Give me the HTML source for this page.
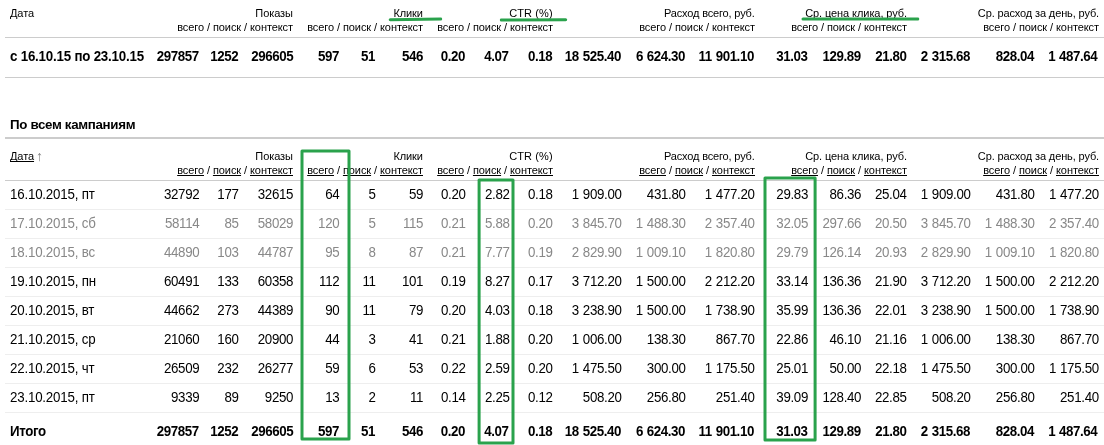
<!DOCTYPE html>
<html><head><meta charset="utf-8"><title>stat</title>
<style>
html,body{margin:0;padding:0;background:#fff;}
body{width:1104px;height:445px;position:relative;overflow:hidden;font-family:"Liberation Sans",Arial,sans-serif;color:#000;}
.c{position:absolute;white-space:nowrap;word-spacing:0.63px;font-size:13.33px;line-height:16px;letter-spacing:-0.33px;text-decoration-skip-ink:none;}
.c{transform:scaleY(1.09);transform-origin:0 12px;}
.h{transform:none;word-spacing:0;font-size:11px;line-height:14px;letter-spacing:-0.08px;}
.b{font-weight:bold;letter-spacing:-0.42px;}
.g{color:#888;}
.ln{position:absolute;left:5px;right:0;height:1px;background:#ccc;}
.rl{background:#eee;}
.u{text-decoration:underline;text-underline-offset:1px;text-decoration-thickness:1px;}
</style></head><body>

<div class="c h" style="top:6px;right:811.1px;letter-spacing:-0.08px">Показы</div>
<div class="c h" style="top:20px;right:811px">всего / поиск / контекст</div>
<div class="c h" style="top:6px;right:681.1px;letter-spacing:-0.08px">Клики</div>
<div class="c h" style="top:20px;right:681px">всего / поиск / контекст</div>
<div class="c h" style="top:6px;right:551.2px;letter-spacing:0.13px">CTR (%)</div>
<div class="c h" style="top:20px;right:551px">всего / поиск / контекст</div>
<div class="c h" style="top:6px;right:349.4px;letter-spacing:-0.17px">Расход всего, руб.</div>
<div class="c h" style="top:20px;right:349px">всего / поиск / контекст</div>
<div class="c h" style="top:6px;right:197.0px;letter-spacing:-0.08px">Ср. цена клика, руб.</div>
<div class="c h" style="top:20px;right:197px">всего / поиск / контекст</div>
<div class="c h" style="top:6px;right:5.0px;letter-spacing:-0.13px">Ср. расход за день, руб.</div>
<div class="c h" style="top:20px;right:5px">всего / поиск / контекст</div>
<div class="c h" style="top:6px;left:10px">Дата</div>
<div class="ln" style="top:37px"></div>
<div class="c b" style="top:49px;left:10px;letter-spacing:-0.21px;word-spacing:0">с 16.10.15 по 23.10.15</div>
<div class="c b" style="top:49px;right:905.2px">297857</div>
<div class="c b" style="top:49px;right:865.8px">1252</div>
<div class="c b" style="top:49px;right:810.8px">296605</div>
<div class="c b" style="top:49px;right:765.1px">597</div>
<div class="c b" style="top:49px;right:729.1px">51</div>
<div class="c b" style="top:49px;right:681.1px">546</div>
<div class="c b" style="top:49px;right:638.9px">0.20</div>
<div class="c b" style="top:49px;right:595.5px">4.07</div>
<div class="c b" style="top:49px;right:551.8px">0.18</div>
<div class="c b" style="top:49px;right:483.1px">18 525.40</div>
<div class="c b" style="top:49px;right:418.9px">6 624.30</div>
<div class="c b" style="top:49px;right:350.1px">11 901.10</div>
<div class="c b" style="top:49px;right:296.5px">31.03</div>
<div class="c b" style="top:49px;right:243.3px">129.89</div>
<div class="c b" style="top:49px;right:197.6px">21.80</div>
<div class="c b" style="top:49px;right:134.1px">2 315.68</div>
<div class="c b" style="top:49px;right:70.0px">828.04</div>
<div class="c b" style="top:49px;right:6.7px">1 487.64</div>
<div class="ln" style="top:77px"></div>
<div class="c b" style="top:117px;left:10px;letter-spacing:-0.33px;word-spacing:0;transform:none">По всем кампаниям</div>
<div class="ln" style="top:137px;height:2px;background:#ccc"></div>
<div class="c h" style="top:149px;right:811.1px;letter-spacing:-0.08px">Показы</div>
<div class="c h" style="top:163px;right:811px"><span class="u">всего</span> / <span class="u">поиск</span> / <span class="u">контекст</span></div>
<div class="c h" style="top:149px;right:681.1px;letter-spacing:-0.08px">Клики</div>
<div class="c h" style="top:163px;right:681px"><span class="u">всего</span> / <span class="u">поиск</span> / <span class="u">контекст</span></div>
<div class="c h" style="top:149px;right:551.2px;letter-spacing:0.13px">CTR (%)</div>
<div class="c h" style="top:163px;right:551px"><span class="u">всего</span> / <span class="u">поиск</span> / <span class="u">контекст</span></div>
<div class="c h" style="top:149px;right:349.4px;letter-spacing:-0.17px">Расход всего, руб.</div>
<div class="c h" style="top:163px;right:349px"><span class="u">всего</span> / <span class="u">поиск</span> / <span class="u">контекст</span></div>
<div class="c h" style="top:149px;right:197.0px;letter-spacing:-0.08px">Ср. цена клика, руб.</div>
<div class="c h" style="top:163px;right:197px"><span class="u">всего</span> / <span class="u">поиск</span> / <span class="u">контекст</span></div>
<div class="c h" style="top:149px;right:5.0px;letter-spacing:-0.13px">Ср. расход за день, руб.</div>
<div class="c h" style="top:163px;right:5px"><span class="u">всего</span> / <span class="u">поиск</span> / <span class="u">контекст</span></div>
<div class="c h" style="top:149px;left:10px"><span class="u">Дата</span> <span style="color:#808080;font-size:14px;line-height:10px;margin-left:-1px;position:relative;top:1px">↑</span></div>
<div class="ln" style="top:180px"></div>
<div class="c " style="top:187px;left:10px;letter-spacing:-0.2px;word-spacing:0">16.10.2015, пт</div>
<div class="c " style="top:187px;right:904.7px">32792</div>
<div class="c " style="top:187px;right:865.4px">177</div>
<div class="c " style="top:187px;right:810.8px">32615</div>
<div class="c " style="top:187px;right:764.7px">64</div>
<div class="c " style="top:187px;right:728.4px">5</div>
<div class="c " style="top:187px;right:680.8px">59</div>
<div class="c " style="top:187px;right:638.4px">0.20</div>
<div class="c " style="top:187px;right:594.4px">2.82</div>
<div class="c " style="top:187px;right:551.4px">0.18</div>
<div class="c " style="top:187px;right:482.4px">1 909.00</div>
<div class="c " style="top:187px;right:418.4px">431.80</div>
<div class="c " style="top:187px;right:349.4px">1 477.20</div>
<div class="c " style="top:187px;right:296.0px">29.83</div>
<div class="c " style="top:187px;right:242.8px">86.36</div>
<div class="c " style="top:187px;right:197.4px">25.04</div>
<div class="c " style="top:187px;right:133.4px">1 909.00</div>
<div class="c " style="top:187px;right:69.4px">431.80</div>
<div class="c " style="top:187px;right:5.2px">1 477.20</div>
<div class="ln rl" style="top:209px"></div>
<div class="c g" style="top:216px;left:10px;letter-spacing:-0.2px;word-spacing:0">17.10.2015, сб</div>
<div class="c g" style="top:216px;right:904.7px">58114</div>
<div class="c g" style="top:216px;right:865.4px">85</div>
<div class="c g" style="top:216px;right:810.8px">58029</div>
<div class="c g" style="top:216px;right:764.7px">120</div>
<div class="c g" style="top:216px;right:728.4px">5</div>
<div class="c g" style="top:216px;right:680.8px">115</div>
<div class="c g" style="top:216px;right:638.4px">0.21</div>
<div class="c g" style="top:216px;right:594.4px">5.88</div>
<div class="c g" style="top:216px;right:551.4px">0.20</div>
<div class="c g" style="top:216px;right:482.4px">3 845.70</div>
<div class="c g" style="top:216px;right:418.4px">1 488.30</div>
<div class="c g" style="top:216px;right:349.4px">2 357.40</div>
<div class="c g" style="top:216px;right:296.0px">32.05</div>
<div class="c g" style="top:216px;right:242.8px">297.66</div>
<div class="c g" style="top:216px;right:197.4px">20.50</div>
<div class="c g" style="top:216px;right:133.4px">3 845.70</div>
<div class="c g" style="top:216px;right:69.4px">1 488.30</div>
<div class="c g" style="top:216px;right:5.2px">2 357.40</div>
<div class="ln rl" style="top:238px"></div>
<div class="c g" style="top:245px;left:10px;letter-spacing:-0.2px;word-spacing:0">18.10.2015, вс</div>
<div class="c g" style="top:245px;right:904.7px">44890</div>
<div class="c g" style="top:245px;right:865.4px">103</div>
<div class="c g" style="top:245px;right:810.8px">44787</div>
<div class="c g" style="top:245px;right:764.7px">95</div>
<div class="c g" style="top:245px;right:728.4px">8</div>
<div class="c g" style="top:245px;right:680.8px">87</div>
<div class="c g" style="top:245px;right:638.4px">0.21</div>
<div class="c g" style="top:245px;right:594.4px">7.77</div>
<div class="c g" style="top:245px;right:551.4px">0.19</div>
<div class="c g" style="top:245px;right:482.4px">2 829.90</div>
<div class="c g" style="top:245px;right:418.4px">1 009.10</div>
<div class="c g" style="top:245px;right:349.4px">1 820.80</div>
<div class="c g" style="top:245px;right:296.0px">29.79</div>
<div class="c g" style="top:245px;right:242.8px">126.14</div>
<div class="c g" style="top:245px;right:197.4px">20.93</div>
<div class="c g" style="top:245px;right:133.4px">2 829.90</div>
<div class="c g" style="top:245px;right:69.4px">1 009.10</div>
<div class="c g" style="top:245px;right:5.2px">1 820.80</div>
<div class="ln rl" style="top:267px"></div>
<div class="c " style="top:274px;left:10px;letter-spacing:-0.2px;word-spacing:0">19.10.2015, пн</div>
<div class="c " style="top:274px;right:904.7px">60491</div>
<div class="c " style="top:274px;right:865.4px">133</div>
<div class="c " style="top:274px;right:810.8px">60358</div>
<div class="c " style="top:274px;right:764.7px">112</div>
<div class="c " style="top:274px;right:728.4px">11</div>
<div class="c " style="top:274px;right:680.8px">101</div>
<div class="c " style="top:274px;right:638.4px">0.19</div>
<div class="c " style="top:274px;right:594.4px">8.27</div>
<div class="c " style="top:274px;right:551.4px">0.17</div>
<div class="c " style="top:274px;right:482.4px">3 712.20</div>
<div class="c " style="top:274px;right:418.4px">1 500.00</div>
<div class="c " style="top:274px;right:349.4px">2 212.20</div>
<div class="c " style="top:274px;right:296.0px">33.14</div>
<div class="c " style="top:274px;right:242.8px">136.36</div>
<div class="c " style="top:274px;right:197.4px">21.90</div>
<div class="c " style="top:274px;right:133.4px">3 712.20</div>
<div class="c " style="top:274px;right:69.4px">1 500.00</div>
<div class="c " style="top:274px;right:5.2px">2 212.20</div>
<div class="ln rl" style="top:296px"></div>
<div class="c " style="top:303px;left:10px;letter-spacing:-0.2px;word-spacing:0">20.10.2015, вт</div>
<div class="c " style="top:303px;right:904.7px">44662</div>
<div class="c " style="top:303px;right:865.4px">273</div>
<div class="c " style="top:303px;right:810.8px">44389</div>
<div class="c " style="top:303px;right:764.7px">90</div>
<div class="c " style="top:303px;right:728.4px">11</div>
<div class="c " style="top:303px;right:680.8px">79</div>
<div class="c " style="top:303px;right:638.4px">0.20</div>
<div class="c " style="top:303px;right:594.4px">4.03</div>
<div class="c " style="top:303px;right:551.4px">0.18</div>
<div class="c " style="top:303px;right:482.4px">3 238.90</div>
<div class="c " style="top:303px;right:418.4px">1 500.00</div>
<div class="c " style="top:303px;right:349.4px">1 738.90</div>
<div class="c " style="top:303px;right:296.0px">35.99</div>
<div class="c " style="top:303px;right:242.8px">136.36</div>
<div class="c " style="top:303px;right:197.4px">22.01</div>
<div class="c " style="top:303px;right:133.4px">3 238.90</div>
<div class="c " style="top:303px;right:69.4px">1 500.00</div>
<div class="c " style="top:303px;right:5.2px">1 738.90</div>
<div class="ln rl" style="top:325px"></div>
<div class="c " style="top:332px;left:10px;letter-spacing:-0.2px;word-spacing:0">21.10.2015, ср</div>
<div class="c " style="top:332px;right:904.7px">21060</div>
<div class="c " style="top:332px;right:865.4px">160</div>
<div class="c " style="top:332px;right:810.8px">20900</div>
<div class="c " style="top:332px;right:764.7px">44</div>
<div class="c " style="top:332px;right:728.4px">3</div>
<div class="c " style="top:332px;right:680.8px">41</div>
<div class="c " style="top:332px;right:638.4px">0.21</div>
<div class="c " style="top:332px;right:594.4px">1.88</div>
<div class="c " style="top:332px;right:551.4px">0.20</div>
<div class="c " style="top:332px;right:482.4px">1 006.00</div>
<div class="c " style="top:332px;right:418.4px">138.30</div>
<div class="c " style="top:332px;right:349.4px">867.70</div>
<div class="c " style="top:332px;right:296.0px">22.86</div>
<div class="c " style="top:332px;right:242.8px">46.10</div>
<div class="c " style="top:332px;right:197.4px">21.16</div>
<div class="c " style="top:332px;right:133.4px">1 006.00</div>
<div class="c " style="top:332px;right:69.4px">138.30</div>
<div class="c " style="top:332px;right:5.2px">867.70</div>
<div class="ln rl" style="top:354px"></div>
<div class="c " style="top:361px;left:10px;letter-spacing:-0.2px;word-spacing:0">22.10.2015, чт</div>
<div class="c " style="top:361px;right:904.7px">26509</div>
<div class="c " style="top:361px;right:865.4px">232</div>
<div class="c " style="top:361px;right:810.8px">26277</div>
<div class="c " style="top:361px;right:764.7px">59</div>
<div class="c " style="top:361px;right:728.4px">6</div>
<div class="c " style="top:361px;right:680.8px">53</div>
<div class="c " style="top:361px;right:638.4px">0.22</div>
<div class="c " style="top:361px;right:594.4px">2.59</div>
<div class="c " style="top:361px;right:551.4px">0.20</div>
<div class="c " style="top:361px;right:482.4px">1 475.50</div>
<div class="c " style="top:361px;right:418.4px">300.00</div>
<div class="c " style="top:361px;right:349.4px">1 175.50</div>
<div class="c " style="top:361px;right:296.0px">25.01</div>
<div class="c " style="top:361px;right:242.8px">50.00</div>
<div class="c " style="top:361px;right:197.4px">22.18</div>
<div class="c " style="top:361px;right:133.4px">1 475.50</div>
<div class="c " style="top:361px;right:69.4px">300.00</div>
<div class="c " style="top:361px;right:5.2px">1 175.50</div>
<div class="ln rl" style="top:383px"></div>
<div class="c " style="top:390px;left:10px;letter-spacing:-0.2px;word-spacing:0">23.10.2015, пт</div>
<div class="c " style="top:390px;right:904.7px">9339</div>
<div class="c " style="top:390px;right:865.4px">89</div>
<div class="c " style="top:390px;right:810.8px">9250</div>
<div class="c " style="top:390px;right:764.7px">13</div>
<div class="c " style="top:390px;right:728.4px">2</div>
<div class="c " style="top:390px;right:680.8px">11</div>
<div class="c " style="top:390px;right:638.4px">0.14</div>
<div class="c " style="top:390px;right:594.4px">2.25</div>
<div class="c " style="top:390px;right:551.4px">0.12</div>
<div class="c " style="top:390px;right:482.4px">508.20</div>
<div class="c " style="top:390px;right:418.4px">256.80</div>
<div class="c " style="top:390px;right:349.4px">251.40</div>
<div class="c " style="top:390px;right:296.0px">39.09</div>
<div class="c " style="top:390px;right:242.8px">128.40</div>
<div class="c " style="top:390px;right:197.4px">22.85</div>
<div class="c " style="top:390px;right:133.4px">508.20</div>
<div class="c " style="top:390px;right:69.4px">256.80</div>
<div class="c " style="top:390px;right:5.2px">251.40</div>
<div class="ln rl" style="top:412px"></div>
<div class="c b" style="top:424px;left:10px;letter-spacing:-0.36px">Итого</div>
<div class="c b" style="top:424px;right:905.2px">297857</div>
<div class="c b" style="top:424px;right:865.8px">1252</div>
<div class="c b" style="top:424px;right:810.8px">296605</div>
<div class="c b" style="top:424px;right:765.1px">597</div>
<div class="c b" style="top:424px;right:729.1px">51</div>
<div class="c b" style="top:424px;right:681.1px">546</div>
<div class="c b" style="top:424px;right:638.9px">0.20</div>
<div class="c b" style="top:424px;right:595.5px">4.07</div>
<div class="c b" style="top:424px;right:551.8px">0.18</div>
<div class="c b" style="top:424px;right:483.1px">18 525.40</div>
<div class="c b" style="top:424px;right:418.9px">6 624.30</div>
<div class="c b" style="top:424px;right:350.1px">11 901.10</div>
<div class="c b" style="top:424px;right:296.5px">31.03</div>
<div class="c b" style="top:424px;right:243.3px">129.89</div>
<div class="c b" style="top:424px;right:197.6px">21.80</div>
<div class="c b" style="top:424px;right:134.1px">2 315.68</div>
<div class="c b" style="top:424px;right:70.0px">828.04</div>
<div class="c b" style="top:424px;right:6.7px">1 487.64</div>
<svg style="position:absolute;left:0;top:0" width="1104" height="445" viewBox="0 0 1104 445" fill="none" stroke="#2aa24c" stroke-width="3" stroke-linejoin="round" stroke-linecap="round">
<rect x="302.0" y="151.0" width="47.00" height="287.95"/>
<rect x="479.1" y="180.0" width="33.90" height="263.00"/>
<rect x="765.0" y="178.1" width="50.10" height="261.85"/>
<path d="M390.2 19.7 L440.7 18.9"/>
<path d="M501.3 19.95 L565.7 19.85"/>
<path d="M803 19.05 L917.8 19"/>
</svg>
</body></html>
